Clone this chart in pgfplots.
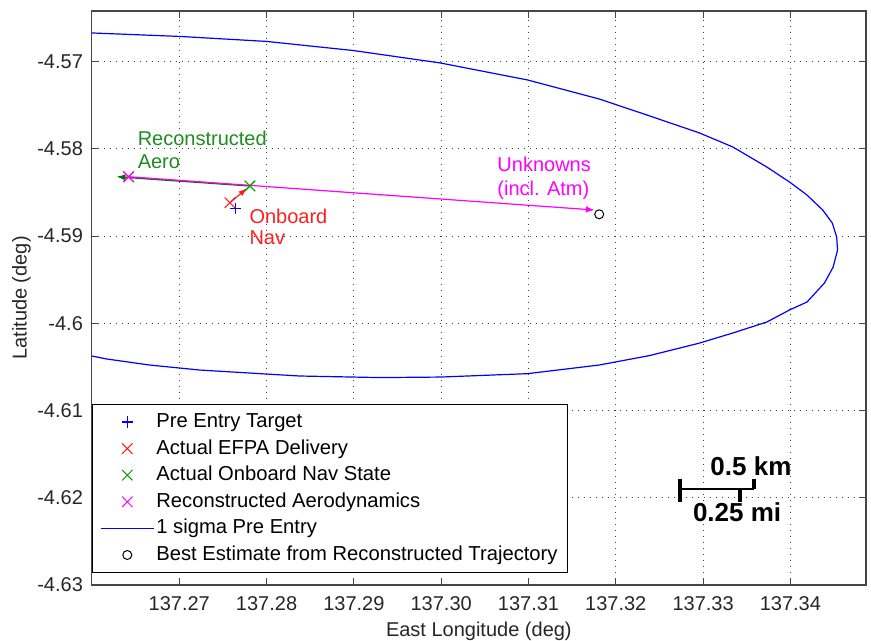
\documentclass[border=0pt]{standalone}
\usepackage{fontspec}
\setmainfont{Liberation Sans}
\usepackage{pgfplots}
\pgfplotsset{compat=1.18}
\usetikzlibrary{arrows.meta}
\definecolor{mgreen}{RGB}{0,160,0}
\definecolor{tgreen}{RGB}{30,140,30}
\definecolor{agreen}{RGB}{0,110,0}
\definecolor{mred}{RGB}{255,30,30}
\definecolor{mmag}{RGB}{255,0,255}
\definecolor{axgray}{RGB}{70,70,70}
\begin{document}
\begin{tikzpicture}
\begin{axis}[
  scale only axis, width=387.15pt, height=287pt,
  xmin=137.25997, xmax=137.34866, ymin=-4.6300, ymax=-4.56419,
  xtick={137.27,137.28,137.29,137.30,137.31,137.32,137.33,137.34},
  xticklabels={137.27,137.28,137.29,137.30,137.31,137.32,137.33,137.34},
  ytick={-4.63,-4.62,-4.61,-4.60,-4.59,-4.58,-4.57},
  yticklabels={-4.63,-4.62,-4.61,-4.6,-4.59,-4.58,-4.57},
  tick align=inside, major tick length=3.5pt,
  tick style={axgray, line width=0.6pt},
  axis line style={axgray, line width=0.7pt},
  grid=major,
  major grid style={black!75, line width=0.6pt, dash pattern=on 0.7pt off 2.3pt},
  every tick label/.append style={font=\fontsize{10}{12}\selectfont, text=black!85},
  xticklabel style={anchor=base, yshift=-12.75pt},
  yticklabel style={anchor=east, inner sep=0pt, xshift=-4.2pt},
  xlabel={East Longitude (deg)}, ylabel={Latitude (deg)},
  label style={font=\fontsize{10}{12}\selectfont, text=black!85},
  xlabel style={at={(axis description cs:0.5,-0.0889)}, anchor=base},
  ylabel style={at={(axis description cs:-0.0842,0.5)}, anchor=base, rotate=0},
  legend image code/.code={\draw[mark repeat=2,mark phase=2,#1] plot coordinates {(0pt,0pt)(13.25pt,0pt)(26.5pt,0pt)};},
  legend cell align=left,
  legend style={at={(0,0)}, anchor=south west, yshift=6pt,
    draw=black, line width=0.5pt, fill=white,
    font=\fontsize{10.1}{12}\selectfont,
    inner xsep=4pt, inner ysep=4pt,
    nodes={inner xsep=1pt, inner ysep=0pt, text height=7.5pt, text depth=2pt},
    row sep=3.8pt},
]
\coordinate (o) at (rel axis cs:0,0);
% markers
\addplot[blue, only marks, mark=+, mark size=2.8pt, line width=0.6pt] coordinates {(137.2764,-4.58681)};
\addlegendentry{Pre Entry Target}
\addplot[mred, only marks, mark=x, mark size=3.7pt, line width=0.5pt] coordinates {(137.2758,-4.58617)};
\addlegendentry{Actual EFPA Delivery}
\addplot[mgreen, only marks, mark=x, mark size=3.7pt, line width=0.5pt] coordinates {(137.2781,-4.58425)};
\addlegendentry{Actual Onboard Nav State}
\addplot[mmag, only marks, mark=x, mark size=3.7pt, line width=0.5pt] coordinates {(137.2642,-4.58319)};
\addlegendentry{Reconstructed Aerodynamics}
% ellipse
\addplot[blue, line width=0.6pt] coordinates {
(137.2600,-4.56671) (137.2701,-4.56711) (137.2800,-4.56768) (137.2899,-4.56872)
(137.2999,-4.57015) (137.3099,-4.57210) (137.3181,-4.57428) (137.3239,-4.57623)
(137.3296,-4.57818) (137.3334,-4.57978) (137.3373,-4.58208) (137.3399,-4.58380)
(137.3419,-4.58529) (137.3437,-4.58701) (137.3448,-4.58850) (137.3453,-4.59010)
(137.3454,-4.59159) (137.3449,-4.59354) (137.3439,-4.59538) (137.3419,-4.59756)
(137.3399,-4.59847) (137.3373,-4.59985) (137.3334,-4.60111) (137.3296,-4.60226)
(137.3239,-4.60369) (137.3181,-4.60478) (137.3099,-4.60577) (137.2999,-4.60616)
(137.2930,-4.60622) (137.2838,-4.60604) (137.2724,-4.60536) (137.2666,-4.60478)
(137.2617,-4.60409) (137.2600,-4.60375)};
\addlegendentry{1 sigma Pre Entry}
\addplot[black, only marks, mark=o, mark size=2.25pt, line width=0.5pt] coordinates {(137.3181,-4.58750)};
\addlegendentry{Best Estimate from Reconstructed Trajectory}
% arrows
\addplot[mred, line width=0.6pt, -{Latex[length=4.5pt,width=3pt]}, forget plot] coordinates {(137.2758,-4.58617) (137.2778,-4.58448)};
\addplot[agreen, line width=0.7pt, -{Latex[length=4.5pt,width=3.2pt]}, forget plot] coordinates {(137.2781,-4.58425) (137.2628,-4.58319)};
\addplot[mmag, line width=0.6pt, -{Latex[length=4.5pt,width=3.2pt]}, forget plot] coordinates {(137.2642,-4.58319) (137.3176,-4.58701)};
% redraw markers on top
\addplot[mmag, only marks, mark=x, mark size=3.7pt, line width=0.5pt, forget plot] coordinates {(137.2642,-4.58319)};
\addplot[mgreen, only marks, mark=x, mark size=3.7pt, line width=0.5pt, forget plot] coordinates {(137.2781,-4.58425)};
% scale bar
\addplot[black, line width=1.4pt, forget plot] coordinates {(137.3274,-4.6190) (137.3358,-4.6190)};
\addplot[black, line width=2pt, forget plot] coordinates {(137.3274,-4.6178) (137.3274,-4.6205)};
\addplot[black, line width=2pt, forget plot] coordinates {(137.3358,-4.6178) (137.3358,-4.6190)};
\addplot[black, line width=2pt, forget plot] coordinates {(137.3342,-4.6190) (137.3342,-4.6205)};
% annotations
\node[anchor=base west, inner sep=0pt, text=tgreen, font=\fontsize{10}{12}\selectfont] at (axis cs:137.2652,-4.5796) {Reconstructed};
\node[anchor=base west, inner sep=0pt, text=tgreen, font=\fontsize{10}{12}\selectfont] at (axis cs:137.2652,-4.5823) {Aero};
\node[anchor=base west, inner sep=0pt, text=mred, font=\fontsize{10}{12}\selectfont] at (axis cs:137.2780,-4.5885) {Onboard};
\node[anchor=base west, inner sep=0pt, text=mred, font=\fontsize{10}{12}\selectfont] at (axis cs:137.2780,-4.5910) {Nav};
\node[anchor=base west, inner sep=0pt, text=mmag, font=\fontsize{10}{12}\selectfont] at (axis cs:137.3064,-4.5826) {Unknowns};
\node[anchor=base west, inner sep=0pt, text=mmag, font=\fontsize{10}{12}\selectfont] at (axis cs:137.3064,-4.5853) {(incl. Atm)};
\node[anchor=base west, inner sep=0pt, font=\bfseries\fontsize{13}{15}\selectfont] at (axis cs:137.3308,-4.6175) {0.5 km};
\node[anchor=base west, inner sep=0pt, font=\bfseries\fontsize{13}{15}\selectfont] at (axis cs:137.3288,-4.6227) {0.25 mi};
\end{axis}
\pgfresetboundingbox
\path (o) ++(-45.85pt,-28pt) rectangle ++(435.5pt,320.5pt);
\end{tikzpicture}
\end{document}
